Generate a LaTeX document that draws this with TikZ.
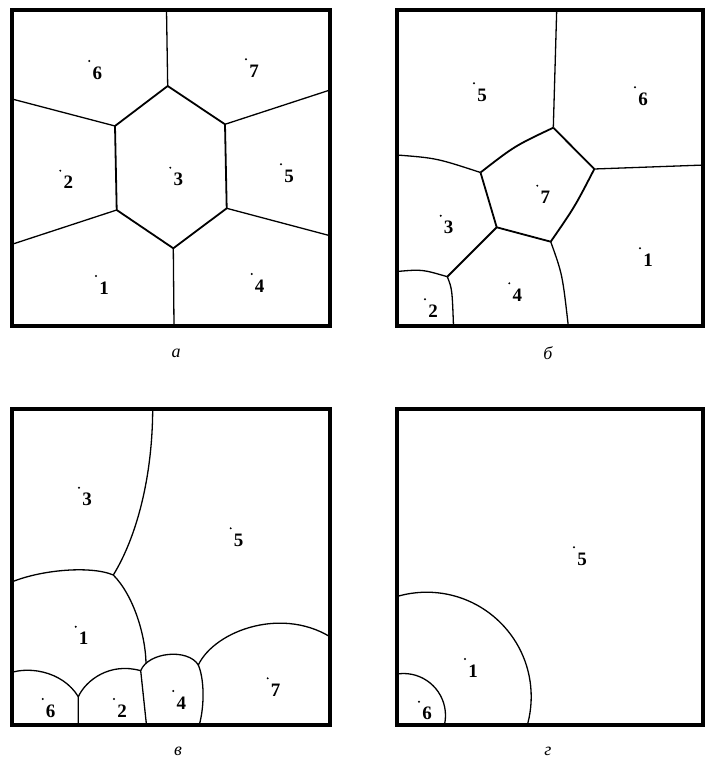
\documentclass[tikz,border=0pt]{standalone}
\usepackage{fontspec}
\setmainfont{Liberation Serif}
\tikzset{
  frame/.style={line width=4pt},
  cell/.style={line width=1.8pt,line join=round},
  edge/.style={line width=1.3pt},
  num/.style={font=\fontsize{19}{19}\selectfont\bfseries,inner sep=0pt},
  panellabel/.style={font=\fontsize{18}{18}\selectfont\itshape,inner sep=0pt}
}

\begin{document}
\begin{tikzpicture}[x=1pt,y=-1pt]
\useasboundingbox (0,0) rectangle (705,767);
% panel a
\begin{scope}
\clip (12,10) rectangle (330,326);
\coordinate (h1) at (167.7,86);
\coordinate (h2) at (115,126);
\coordinate (h3) at (116.7,210);
\coordinate (h4) at (173.3,248.3);
\coordinate (h5) at (226.7,208.3);
\coordinate (h6) at (225,124.3);
\draw[cell] (h1)--(h2)--(h3)--(h4)--(h5)--(h6)--cycle;
\draw[edge] (h1)--(166.5,10) (h2)--(12,99) (h3)--(12,244.3)
  (h4)--(174,326) (h5)--(330,235.7) (h6)--(330,90);
\end{scope}
\draw[frame] (12,10) rectangle (330,326);
\foreach \n/\x/\y in {6/89.3/61,7/246/59.3,2/60.3/170.7,3/170.3/167.7,5/281/164.3,1/96/276,4/251.7/274}
  {\fill (\x,\y) circle (1.1); \node[num] (pa\n) at (\x+8,\y+12) {\n};}
\node[panellabel] (la) at (176,353) {а};
% panel b
\begin{scope}
\clip (397,10) rectangle (703,326);
\coordinate (A) at (553.3,127.7);
\coordinate (B) at (594.3,169);
\coordinate (C) at (550.7,241.7);
\coordinate (D) at (496.7,227.3);
\coordinate (E) at (480.5,172.5);
\coordinate (F) at (447.3,276.7);
\draw[cell] (A)--(B) (E)--(D)--(C) (D)--(F);
\draw[cell] (E) .. controls (514.6,146) .. (A);
\draw[cell] (B) .. controls (574.8,206.8) .. (C);
\draw[edge] (A)--(556.7,10) (B)--(705,165);
\draw[edge] (397,155) .. controls (436.4,158.1) .. (E);
\draw[edge] (397,271.5) .. controls (422,269.3) .. (F);
\draw[edge] (F) .. controls (452.1,288.9) .. (453.5,326);
\draw[edge] (C) .. controls (562.4,274.3) .. (568.3,326);
\end{scope}
\draw[frame] (397,10) rectangle (703,326);
\foreach \n/\x/\y in {5/474/83.3,6/635/87.3,7/537.3/185.7,3/440.7/215.7,1/640/248.3,4/509.3/283.3,2/425/299.3}
  {\fill (\x,\y) circle (1.1); \node[num] (pb\n) at (\x+8,\y+12) {\n};}
\node[panellabel] (lb) at (548,353) {б};
% panel c
\begin{scope}
\clip (12,409) rectangle (330,725);
\coordinate (P) at (113.3,575);
\coordinate (U) at (146,663);
\coordinate (Q) at (140.7,670.7);
\coordinate (R) at (198.3,665);
\coordinate (S) at (78.3,696.7);
\draw[edge] (P) .. controls (136,538) and (153,478) .. (152.7,405);
\draw[edge] (5,585) .. controls (35,570) and (90,565) .. (P);
\draw[edge] (P) .. controls (134,596) and (145.5,636) .. (U);
\draw[edge] (Q) .. controls (148,652) and (188,648) .. (R);
\draw[edge] (R) .. controls (215,630) and (285,605) .. (335,640);
\draw[edge] (R) .. controls (204,678) and (205,705) .. (199,726);
\draw[edge] (S) .. controls (86,680) and (110,662) .. (Q);
\draw[edge] (5,675) .. controls (25,665) and (62,670) .. (S);
\draw[edge] (Q)--(147,730) (S)--(78.3,730);
\end{scope}
\draw[frame] (12,409) rectangle (330,725);
\foreach \n/\x/\y in {3/79/487.7,5/230.7/528.3,1/75.7/626.7,7/267.7/678.3,6/42.7/699,2/114/699,4/173.3/691}
  {\fill (\x,\y) circle (1.1); \node[num] (pc\n) at (\x+8,\y+12) {\n};}
\node[panellabel] (lc) at (178,751) {в};
% panel d
\begin{scope}
\clip (397,409) rectangle (703,725);
\draw[edge] (426.7,696.7) circle (104.5);
\draw[edge] (403.5,715.5) circle (42);
\end{scope}
\draw[frame] (397,409) rectangle (703,725);
\foreach \n/\x/\y in {5/574/547.3,1/465/659,6/419/701.7}
  {\fill (\x,\y) circle (1.1); \node[num] (pd\n) at (\x+8,\y+12) {\n};}
\node[panellabel] (ld) at (548,751) {г};
\end{tikzpicture}
\end{document}
